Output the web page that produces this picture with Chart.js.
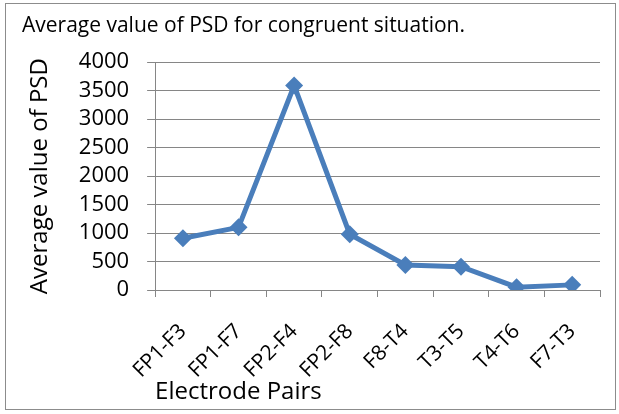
<!DOCTYPE html>
<html>
<head>
<meta charset="utf-8">
<script src="https://cdn.jsdelivr.net/npm/chart.js@4"></script>
<style>
  body { margin: 0; background: #fff; }
</style>
</head>
<body>
<canvas id="psdChart" width="619" height="414"></canvas>
<script>
const pairs = ['FP1-F3', 'FP1-F7', 'FP2-F4', 'FP2-F8', 'F8-T4', 'T3-T5', 'T4-T6', 'F7-T3'];
const psdValues = [910, 1100, 3590, 980, 440, 410, 50, 90];
const yTicks = [0, 500, 1000, 1500, 2000, 2500, 3000, 3500, 4000];

const ctx = document.getElementById('psdChart').getContext('2d');
const fontFamily = '"Open Sans", "Noto Sans", sans-serif';
const gridGray = '#868686';

const outerBorder = {
  id: 'outerBorder',
  beforeDraw(chart) {
    const c = chart.ctx;
    c.save();
    c.fillStyle = '#fff';
    c.fillRect(0, 0, chart.width, chart.height);
    c.strokeStyle = '#8c8c8c';
    c.lineWidth = 1;
    c.strokeRect(5.5, 3.5, 610, 406);
    c.restore();
  }
};

new Chart(ctx, {
  type: 'line',
  data: {
    labels: pairs,
    datasets: [{
      label: 'PSD',
      data: psdValues,
      borderColor: '#4a7ebb',
      backgroundColor: '#4a7ebb',
      borderWidth: 5,
      pointStyle: 'rectRot',
      pointRadius: 9,
      pointHoverRadius: 9,
      pointBorderWidth: 0,
      tension: 0
    }]
  },
  options: {
    responsive: false,
    animation: false,
    layout: { padding: { left: 22, right: 19, top: 13, bottom: 7 } },
    plugins: {
      legend: { display: false },
      tooltip: { enabled: false },
      title: {
        display: true,
        text: 'Average value of PSD for congruent situation.',
        align: 'start',
        color: '#000',
        font: { family: fontFamily, size: 21, weight: 'normal' },
        padding: { top: 0, bottom: 24 }
      }
    },
    scales: {
      y: {
        min: 0,
        max: 4000,
        afterBuildTicks(axis) { axis.ticks = yTicks.map(v => ({ value: v })); },
        border: { display: true, color: gridGray, width: 1 },
        grid: { color: gridGray, lineWidth: 1, tickLength: 8 },
        title: {
          display: true,
          text: 'Average value of PSD',
          color: '#000',
          font: { family: fontFamily, size: 24 },
          padding: { top: 4, bottom: 6 }
        },
        ticks: {
          color: '#000',
          padding: 18,
          autoSkip: false,
          font: { family: fontFamily, size: 22 },
          callback: (v) => String(v)
        }
      },
      x: {
        offset: true,
        afterFit(axis) { axis.height = 117; },
        border: { display: true, color: gridGray, width: 1 },
        grid: { offset: true, drawOnChartArea: false, drawTicks: true, tickLength: 7, color: gridGray },
        title: {
          display: true,
          text: 'Electrode Pairs',
          align: 'start',
          color: '#000',
          font: { family: fontFamily, size: 24 },
          padding: { top: 0, bottom: 0 }
        },
        ticks: {
          color: '#000',
          maxRotation: 45,
          minRotation: 45,
          padding: 22,
          autoSkip: false,
          font: { family: fontFamily, size: 21 }
        }
      }
    }
  },
  plugins: [outerBorder]
});
</script>
</body>
</html>
